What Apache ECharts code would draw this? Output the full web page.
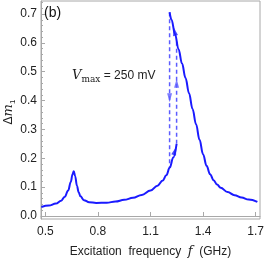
<!DOCTYPE html>
<html>
<head>
<meta charset="utf-8">
<script src="https://cdn.jsdelivr.net/npm/echarts@6/dist/echarts.min.js"></script>
<style>html,body{margin:0;padding:0;background:#fff}#c{width:266px;height:260px}</style>
</head>
<body>
<div id="c"></div>
<script>
// lower (low-amplitude) branch, swept up in frequency
const lowerF = [0.477,0.52,0.56,0.59,0.61,0.63,0.645,0.655,0.662,0.670,0.68,0.69,0.70,0.72,0.75,0.79,0.85,0.90,0.95,1.00,1.05,1.10,1.14,1.17,1.19,1.21,1.23,1.249];
const lowerV = [0.031,0.036,0.043,0.053,0.066,0.088,0.118,0.145,0.155,0.138,0.105,0.082,0.068,0.055,0.048,0.045,0.046,0.050,0.056,0.063,0.073,0.088,0.105,0.123,0.141,0.168,0.203,0.250];
// upper (high-amplitude) branch
const upperF = [1.209,1.22,1.24,1.26,1.28,1.30,1.32,1.34,1.36,1.38,1.40,1.42,1.44,1.46,1.48,1.50,1.54,1.58,1.62,1.66,1.71];
const upperV = [0.706,0.680,0.630,0.578,0.528,0.478,0.425,0.371,0.318,0.264,0.214,0.174,0.145,0.124,0.109,0.098,0.083,0.072,0.064,0.057,0.049];
// jumps (dashed)
const jumpDownF = 1.209, jumpDownV = [0.706, 0.166];
const jumpUpF = 1.249, jumpUpV = [0.250, 0.605];
// arrowheads: [f, value, rotation]
const arrowsSolid = [[1.237,0.64,13],[1.240,0.226,-18]];
const arrowsDashed = [[1.209,0.41,180],[1.249,0.46,0]];
const xTicks = [0.5,0.8,1.1,1.4,1.7];
const yTicks = [0.0,0.1,0.2,0.3,0.4,0.5,0.6,0.7];
const yMinor = [];
for (let i = 0; i <= 37; i++) yMinor.push(+(i*0.02).toFixed(2));

const toPairs = (xs, ys) => xs.map((x,i)=>[x, ys[i]]);
const solid = '#1a1aff', dashed = '#5c5cff', frame = '#a8a8a8', txt = '#222';
const font = 'Liberation Sans, Arial, sans-serif';

const chart = echarts.init(document.getElementById('c'), null, {renderer:'canvas'});
chart.setOption({
  animation:false,
  grid:{left:41,right:6,top:1,bottom:41,containLabel:false,outerBoundsMode:'none',
        show:true,borderColor:frame,borderWidth:1,backgroundColor:'transparent'},
  xAxis:[{
    type:'value',min:0.475,max:1.725,
    axisLine:{show:true,lineStyle:{color:frame}},
    axisTick:{show:true,inside:true,length:4,customValues:xTicks,lineStyle:{color:frame}},
    axisLabel:{customValues:xTicks,formatter:v=>v.toFixed(1),color:txt,fontSize:12,fontFamily:font,margin:7},
    splitLine:{show:false},
    name:'{t|Excitation  frequency  }{i|f}{t|  (GHz)}',
    nameLocation:'middle',nameGap:26,
    nameTextStyle:{rich:{t:{fontSize:12,fontFamily:font,color:txt},i:{fontSize:13,fontFamily:'DejaVu Serif, serif',fontStyle:'italic',color:txt}}}
  }],
  yAxis:[{
    type:'value',min:-0.0104,max:0.745,
    axisLine:{show:true,lineStyle:{color:frame}},
    axisTick:{show:true,inside:true,length:4,customValues:yTicks,lineStyle:{color:frame}},
    axisLabel:{customValues:yTicks,formatter:v=>v.toFixed(1),color:txt,fontSize:12,fontFamily:font,margin:4},
    splitLine:{show:false}
  },{
    type:'value',min:-0.0104,max:0.745,position:'left',
    axisLine:{show:false},
    axisTick:{show:true,inside:true,length:2,customValues:yMinor,lineStyle:{color:frame}},
    axisLabel:{show:false},splitLine:{show:false}
  }],
  series:[
    {type:'line',data:toPairs(lowerF,lowerV),showSymbol:false,smooth:0.4,smoothMonotone:'x',
     lineStyle:{color:solid,width:2},z:3},
    {type:'line',data:toPairs(upperF,upperV),showSymbol:false,smooth:0.4,smoothMonotone:'x',
     lineStyle:{color:solid,width:2},z:3},
    {type:'line',data:jumpDownV.map(v=>[jumpDownF,v]),showSymbol:false,
     lineStyle:{color:dashed,width:1.5,type:[4,3]},z:2},
    {type:'line',data:jumpUpV.map(v=>[jumpUpF,v]),showSymbol:false,
     lineStyle:{color:dashed,width:1.5,type:[4,3]},z:2},
    {type:'scatter',data:arrowsSolid.map(a=>({value:[a[0],a[1]],symbolRotate:a[2]})),
     symbol:'triangle',symbolSize:[5,9],itemStyle:{color:solid},z:4},
    {type:'scatter',data:arrowsDashed.map(a=>({value:[a[0],a[1]],symbolRotate:a[2]})),
     symbol:'triangle',symbolSize:[5,9],itemStyle:{color:dashed},z:4}
  ],
  graphic:[
    {type:'text',left:44,top:6,style:{text:'(b)',fontSize:14,fontFamily:font,fill:'#111'}},
    {type:'text',x:72,y:76,style:{
      text:'{v|V}{s|max}{n| = 250 mV}',verticalAlign:'middle',
      rich:{
        v:{fontSize:13,fontFamily:'DejaVu Serif, serif',fontStyle:'italic',fill:txt,lineHeight:16},
        s:{fontSize:9,fontFamily:'DejaVu Serif, serif',fill:txt,verticalAlign:'bottom',lineHeight:9},
        n:{fontSize:12,fontFamily:font,fill:txt,lineHeight:16}
      }}},
    {type:'text',x:9,y:112,rotation:Math.PI/2,style:{
      text:'{d|Δ}{m|m}{s|1}',align:'center',verticalAlign:'middle',
      rich:{
        d:{fontSize:12,fontFamily:font,fill:txt,lineHeight:16},
        m:{fontSize:13,fontFamily:'DejaVu Serif, serif',fontStyle:'italic',fill:txt,lineHeight:16},
        s:{fontSize:8,fontFamily:font,fill:txt,verticalAlign:'bottom',lineHeight:8}
      }}}
  ]
});
</script>
</body>
</html>
